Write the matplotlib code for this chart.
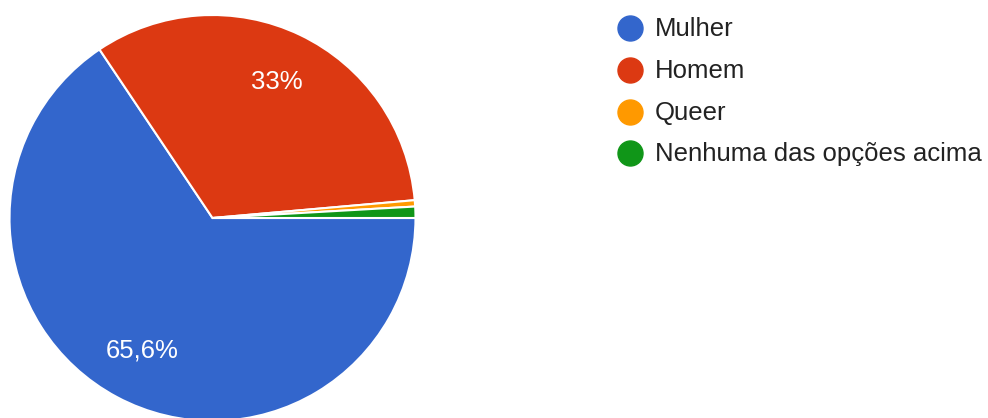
import matplotlib
matplotlib.use('Agg')
import matplotlib.pyplot as plt

plt.rcParams['font.family'] = ['Liberation Sans', 'DejaVu Sans']

categorias = ['Mulher', 'Homem', 'Queer', 'Nenhuma das opções acima']
percentuais = [65.6, 33.0, 0.5, 0.9]
cores = ['#3366cc', '#dc3912', '#ff9900', '#109618']


def rotulo(pct):
    # only the bigger slices get a label, decimal comma like pt-BR
    if pct < 5:
        return ''
    txt = '{:.1f}'.format(pct).replace('.', ',')
    if txt.endswith(',0'):
        txt = txt[:-2]
    return txt + '%'


fig = plt.figure(figsize=(9.88, 4.18), dpi=100)
ax = fig.add_axes([8.5 / 988, -4 / 418, 408 / 988, 408 / 418])

wedges, textos, autotextos = ax.pie(
    percentuais, colors=cores, startangle=0, counterclock=False,
    autopct=rotulo, pctdistance=0.74, radius=1,
    wedgeprops=dict(edgecolor='white', linewidth=1.5),
    textprops=dict(color='white', fontsize=18.5))
ax.set_xlim(-1.005, 1.005)
ax.set_ylim(-1.005, 1.005)
ax.set_aspect('equal')
ax.axis('off')

# legend drawn by hand in pixel coordinates
leg = fig.add_axes([0, 0, 1, 1], zorder=-1)
leg.set_xlim(0, 988)
leg.set_ylim(418, 0)
leg.axis('off')
for i, (nome, cor) in enumerate(zip(categorias, cores)):
    y = 28 + 41.8 * i
    leg.plot(630, y, 'o', markersize=18, color=cor)
    leg.text(655, y + 1, nome, va='center', ha='left', fontsize=18.5,
             color='#222222')

fig.savefig('out.png', dpi=100)
